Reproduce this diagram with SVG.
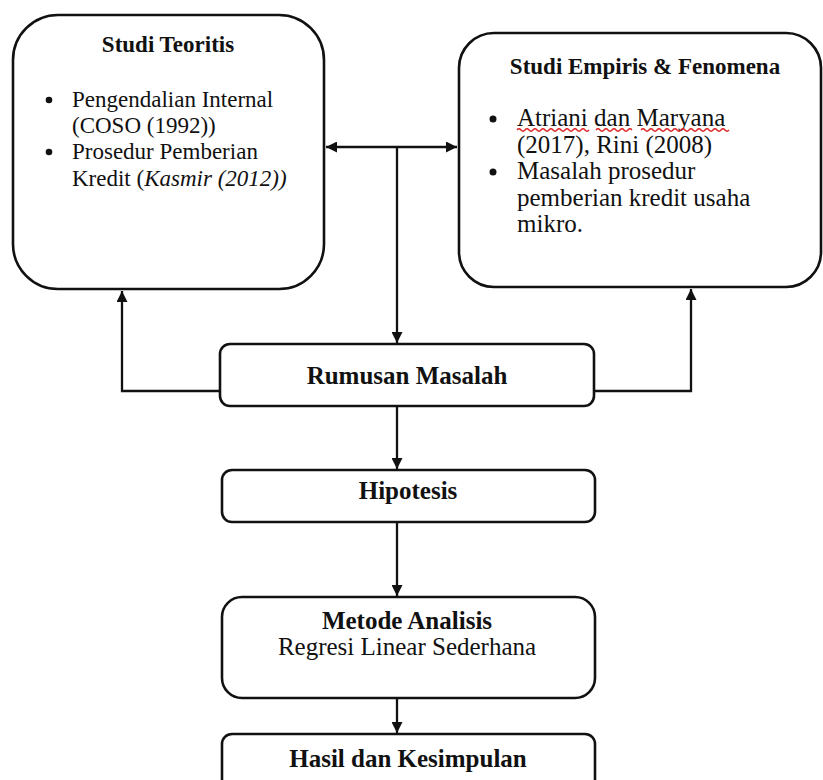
<svg xmlns="http://www.w3.org/2000/svg" width="823" height="780" viewBox="0 0 823 780">
<style>
.box{fill:#fff;stroke:#111;stroke-width:2.6}
.ln{fill:none;stroke:#111;stroke-width:2.3}
text{font-family:"Liberation Serif","Times New Roman",serif;fill:#111}
.b{font-weight:bold}
.wavy{fill:none;stroke:#d22;stroke-width:1.3}
</style>
<defs>
<marker id="ah" viewBox="0 0 10 10" refX="10" refY="5" markerWidth="12" markerHeight="11" markerUnits="userSpaceOnUse" orient="auto-start-reverse">
<path d="M0,0 L10,5 L0,10 z" fill="#111"/>
</marker>
</defs>
<rect width="823" height="780" fill="#fff"/>
<g id="connectors">
<line class="ln" x1="326" y1="147" x2="457" y2="147" marker-start="url(#ah)" marker-end="url(#ah)"/>
<line class="ln" x1="397" y1="147" x2="397" y2="343" marker-end="url(#ah)"/>
<polyline class="ln" points="220,391 122,391 122,291" marker-end="url(#ah)"/>
<polyline class="ln" points="594,391 691,391 691,289" marker-end="url(#ah)"/>
<line class="ln" x1="397" y1="406" x2="397" y2="469" marker-end="url(#ah)"/>
<line class="ln" x1="397" y1="522" x2="397" y2="596" marker-end="url(#ah)"/>
<line class="ln" x1="397" y1="698" x2="397" y2="733" marker-end="url(#ah)"/>
</g>
<g id="studi-teoritis">
<rect class="box" x="13" y="15" width="311" height="274" rx="45" ry="45"/>
<text class="b" x="168" y="52" font-size="23" text-anchor="middle">Studi Teoritis</text>
<circle cx="49" cy="100" r="3.3" fill="#111"/>
<circle cx="49" cy="152" r="3.3" fill="#111"/>
<text x="72" y="107" font-size="23">Pengendalian Internal</text>
<text x="72" y="133" font-size="23">(COSO (1992))</text>
<text x="72" y="159" font-size="23">Prosedur Pemberian</text>
<text x="72" y="186" font-size="23">Kredit (<tspan font-style="italic">Kasmir (2012))</tspan></text>
</g>
<g id="studi-empiris">
<rect class="box" x="459" y="33" width="362" height="254" rx="35" ry="35"/>
<text class="b" x="645" y="74" font-size="23" text-anchor="middle">Studi Empiris &amp; Fenomena</text>
<circle cx="493" cy="119" r="3.5" fill="#111"/>
<circle cx="493" cy="172" r="3.5" fill="#111"/>
<text x="517" y="126" font-size="25">Atriani dan Maryana</text>
<text x="517" y="152.5" font-size="25">(2017), Rini (2008)</text>
<text x="517" y="179" font-size="25">Masalah prosedur</text>
<text x="517" y="205.5" font-size="25">pemberian kredit usaha</text>
<text x="517" y="232" font-size="25">mikro.</text>
<path class="wavy" d="M517,130 q2,-2.5 4,0 t4,0 t4,0 t4,0 t4,0 t4,0 t4,0 t4,0 t4,0 t4,0 t4,0 t4,0 t4,0 t4,0 t4,0 t4,0 t4,0 t4,0"/>
<path class="wavy" d="M596,130 q2,-2.5 4,0 t4,0 t4,0 t4,0 t4,0 t4,0 t4,0 t4,0 t4,0"/>
<path class="wavy" d="M641,130 q2,-2.5 4,0 t4,0 t4,0 t4,0 t4,0 t4,0 t4,0 t4,0 t4,0 t4,0 t4,0 t4,0 t4,0 t4,0 t4,0 t4,0 t4,0 t4,0 t4,0 t4,0 t4,0 t4,0"/>
</g>
<g id="rumusan-masalah">
<rect class="box" x="220" y="344" width="374" height="62" rx="10" ry="10"/>
<text class="b" x="407" y="384" font-size="25" text-anchor="middle">Rumusan Masalah</text>
</g>
<g id="hipotesis">
<rect class="box" x="222" y="470" width="373" height="52" rx="10" ry="10"/>
<text class="b" x="408" y="499" font-size="25" text-anchor="middle">Hipotesis</text>
</g>
<g id="metode-analisis">
<rect class="box" x="222" y="597" width="373" height="101" rx="20" ry="20"/>
<text class="b" x="407" y="629" font-size="25" text-anchor="middle">Metode Analisis</text>
<text x="407" y="655" font-size="25" text-anchor="middle">Regresi Linear Sederhana</text>
</g>
<g id="hasil-kesimpulan">
<rect class="box" x="222" y="734" width="373" height="70" rx="10" ry="10"/>
<text class="b" x="408" y="767" font-size="25" text-anchor="middle">Hasil dan Kesimpulan</text>
</g>
</svg>
